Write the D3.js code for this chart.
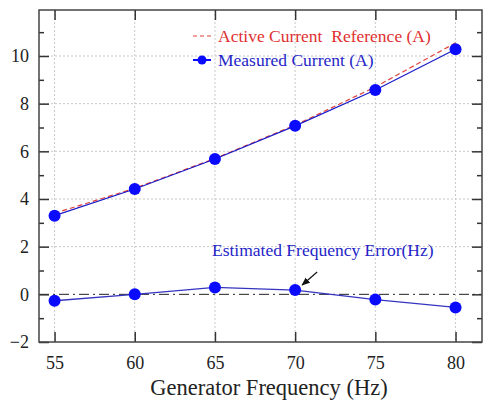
<!DOCTYPE html>
<html><head><meta charset="utf-8">
<script src="https://cdn.jsdelivr.net/npm/d3@7"></script>
<style>body{margin:0;background:#fff;} svg{display:block;} svg text{font-family:'Liberation Serif','Times New Roman',serif;}</style>
</head><body>
<svg id="c" width="483" height="400"></svg>
<script>
const freqs = [55, 60, 65, 70, 75, 80];
const referenceCurrent = [3.4, 4.45, 5.7, 7.1, 8.7, 10.55];
const measuredCurrent = [3.3, 4.42, 5.68, 7.07, 8.57, 10.28];
const freqError = [-0.27, 0.0, 0.29, 0.18, -0.22, -0.55];
const xTicks = [55, 60, 65, 70, 75, 80];
const yTicks = [-2, 0, 2, 4, 6, 8, 10];
const yMinorTicks = [-1, 1, 3, 5, 7, 9, 11];
const legendLabels = ["Active Current  Reference (A)", "Measured Current (A)"];
const annotationLabel = "Estimated Frequency Error(Hz)";
const xTitle = "Generator Frequency (Hz)";

const svg = d3.select("#c");
const L = 39, R = 482, T = 10, B = 342;
const x = d3.scaleLinear().domain([54.03, 81.65]).range([L, R]);
const y = d3.scaleLinear().domain([-2, 11.93]).range([B, T]);
const font = "'Liberation Serif','Times New Roman',serif";

// grid
const g = svg.append("g");
g.selectAll(".vg").data(xTicks).join("line")
  .attr("x1", d => x(d)).attr("x2", d => x(d)).attr("y1", T).attr("y2", B)
  .attr("stroke", "#c8c8c8").attr("stroke-width", 1).attr("stroke-dasharray", "2,2");
g.selectAll(".hg").data(yTicks.filter(d => d !== 0 && d !== -2)).join("line")
  .attr("x1", L).attr("x2", R).attr("y1", d => y(d)).attr("y2", d => y(d))
  .attr("stroke", "#c8c8c8").attr("stroke-width", 1).attr("stroke-dasharray", "2,2");

// zero dash-dot line
svg.append("line").attr("x1", L).attr("x2", R).attr("y1", y(0)).attr("y2", y(0))
  .attr("stroke", "#222").attr("stroke-width", 1).attr("stroke-dasharray", "10,4,2,4");

// axes (inward ticks)
const fmt = d3.format("d");
const axL = svg.append("g").attr("transform", `translate(${L},0)`)
  .call(d3.axisLeft(y).tickValues(yTicks).tickSize(-10).tickPadding(10).tickFormat(fmt));
const axLm = svg.append("g").attr("transform", `translate(${L},0)`)
  .call(d3.axisLeft(y).tickValues(yMinorTicks).tickSize(-5).tickFormat(""));
const axR = svg.append("g").attr("transform", `translate(${R},0)`)
  .call(d3.axisRight(y).tickValues(yTicks).tickSize(-10).tickFormat(""));
const axRm = svg.append("g").attr("transform", `translate(${R},0)`)
  .call(d3.axisRight(y).tickValues(yMinorTicks).tickSize(-5).tickFormat(""));
const axB = svg.append("g").attr("transform", `translate(0,${B})`)
  .call(d3.axisBottom(x).tickValues(xTicks).tickSize(-10).tickPadding(21).tickFormat(fmt));
const axT = svg.append("g").attr("transform", `translate(0,${T})`)
  .call(d3.axisTop(x).tickValues(xTicks).tickSize(-10).tickFormat(""));
[axL, axLm, axR, axRm, axB, axT].forEach(a => {
  a.attr("font-family", font).attr("font-size", 18);
  a.select(".domain").remove();
  a.selectAll(".tick line").attr("stroke", "#333").attr("stroke-width", 1.5);
  a.selectAll("text").style("font-family", font).style("font-size", "18px").attr("fill", "#222");
});
axB.selectAll("text").attr("dy", "0.35em");

// frame
svg.append("rect").attr("x", L).attr("y", T).attr("width", R - L).attr("height", B - T)
  .attr("fill", "none").attr("stroke", "#444").attr("stroke-width", 1.5);

const line = d3.line().x((d, i) => x(freqs[i])).y(d => y(d));

// reference dashed red
svg.append("path").datum(referenceCurrent).attr("d", line)
  .attr("fill", "none").attr("stroke", "#e0403a").attr("stroke-width", 1.2).attr("stroke-dasharray", "5,3");
// measured
svg.append("path").datum(measuredCurrent).attr("d", line)
  .attr("fill", "none").attr("stroke", "#1a1ac8").attr("stroke-width", 1.2);
svg.selectAll(".mc").data(measuredCurrent).join("circle")
  .attr("cx", (d, i) => x(freqs[i])).attr("cy", d => y(d)).attr("r", 6).attr("fill", "#0a0aff");
// error
svg.append("path").datum(freqError).attr("d", line)
  .attr("fill", "none").attr("stroke", "#3535c0").attr("stroke-width", 1.3);
svg.selectAll(".fe").data(freqError).join("circle")
  .attr("cx", (d, i) => x(freqs[i])).attr("cy", d => y(d)).attr("r", 6).attr("fill", "#0a0aff");

// legend
const lx = 193, ly1 = 36, ly2 = 60;
svg.append("line").attr("x1", lx).attr("x2", lx + 18).attr("y1", ly1).attr("y2", ly1)
  .attr("stroke", "#e0403a").attr("stroke-width", 1.2).attr("stroke-dasharray", "4,3");
svg.append("text").attr("x", 218).attr("y", ly1).attr("dy", "0.35em")
  .attr("font-family", font).attr("font-size", 17.5).attr("fill", "#e03030")
  .style("white-space", "pre").text(legendLabels[0]);
svg.append("line").attr("x1", lx).attr("x2", lx + 18).attr("y1", ly2).attr("y2", ly2)
  .attr("stroke", "#0a0aff").attr("stroke-width", 2);
svg.append("circle").attr("cx", lx + 9).attr("cy", ly2).attr("r", 4.5).attr("fill", "#0a0aff");
svg.append("text").attr("x", 218).attr("y", ly2).attr("dy", "0.35em")
  .attr("font-family", font).attr("font-size", 17.5).attr("fill", "#2525c8").text(legendLabels[1]);

// annotation
svg.append("text").attr("x", 212).attr("y", 250).attr("dy", "0.35em")
  .attr("font-family", font).attr("font-size", 17.5).attr("fill", "#2525c8").text(annotationLabel);
const defs = svg.append("defs");
defs.append("marker").attr("id", "ah").attr("viewBox", "0 0 10 10").attr("refX", 9).attr("refY", 5)
  .attr("markerWidth", 7).attr("markerHeight", 7).attr("orient", "auto")
  .append("path").attr("d", "M0,1 L10,5 L0,9 Z").attr("fill", "#111");
const ax0 = x(70), ay0 = y(freqError[3]);
svg.append("line").attr("x1", ax0 + 22).attr("y1", ay0 - 18).attr("x2", ax0 + 7).attr("y2", ay0 - 5)
  .attr("stroke", "#111").attr("stroke-width", 1.2).attr("marker-end", "url(#ah)");

// x title
svg.append("text").attr("x", 269).attr("y", 387).attr("dy", "0.35em").attr("text-anchor", "middle")
  .attr("font-family", font).attr("font-size", 22.5).attr("fill", "#222").text(xTitle);
</script>
</body></html>
